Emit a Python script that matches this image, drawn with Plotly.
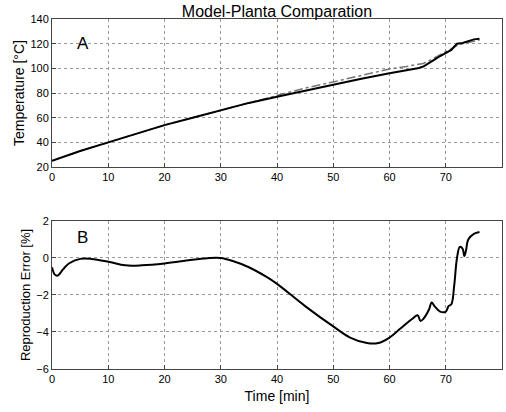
import plotly.graph_objects as go

# Panel A: temperature
t_meas = [0, 5, 10, 15, 20, 25, 30, 35, 40, 45, 50, 55, 60, 63, 65, 66, 67, 68, 69, 70, 71, 71.5, 72, 73, 74, 75, 76]
temp_meas = [25, 33, 40, 47, 54, 60, 66, 72, 77, 82, 87, 91.5, 96, 98.5, 100, 101.5, 104, 107, 110, 112.5, 115, 117.5, 120, 120.5, 122, 123.5, 124]
t_model = [0, 5, 10, 15, 20, 25, 30, 35, 40, 45, 50, 55, 60, 63, 65, 66, 67, 68, 69, 70, 71, 72, 73, 74, 75, 76]
temp_model = [25, 33, 40, 47, 54, 60, 66, 72, 78, 84, 89, 94.5, 99.5, 101.5, 103, 104, 106, 108.5, 111, 113, 115.5, 118.5, 120, 121, 122, 123]

# Panel B: reproduction error
t_err = [0, 0.5, 1, 2, 3, 5, 7, 10, 13, 16, 20, 25, 28, 30, 32, 35, 38, 40, 45, 50, 53, 56, 58, 60, 62, 64, 65, 65.5, 66, 67, 67.5, 68, 69, 70, 70.5, 71, 71.5, 72, 72.5, 73, 73.3, 73.6, 74, 75, 76]
err = [-0.5, -0.9, -0.95, -0.6, -0.3, -0.05, -0.05, -0.2, -0.4, -0.4, -0.3, -0.1, 0.0, 0.0, -0.15, -0.5, -1.0, -1.4, -2.6, -3.7, -4.3, -4.6, -4.6, -4.3, -3.8, -3.3, -3.1, -3.4, -3.3, -2.8, -2.4, -2.6, -2.9, -2.9, -2.6, -2.5, -1.5, 0.0, 0.6, 0.5, 0.1, 0.4, 1.0, 1.3, 1.4]

xticks = [0, 10, 20, 30, 40, 50, 60, 70, 80]
ticks_a = [20, 40, 60, 80, 100, 120, 140]
ticks_b = [-6, -4, -2, 0, 2]

fnt = "Liberation Sans, Arial, sans-serif"
fig = go.Figure()
fig.add_trace(go.Scatter(x=t_model, y=temp_model, mode="lines", xaxis="x", yaxis="y",
                         line=dict(color="#777777", width=1.5, dash="dashdot"), showlegend=False))
fig.add_trace(go.Scatter(x=t_meas, y=temp_meas, mode="lines", xaxis="x", yaxis="y",
                         line=dict(color="black", width=2), showlegend=False))
fig.add_trace(go.Scatter(x=t_err, y=err, mode="lines", xaxis="x2", yaxis="y2", line_shape="spline",
                         line=dict(color="black", width=2), showlegend=False))

axcommon = dict(showline=True, mirror=True, linecolor="#444444", linewidth=1,
                showgrid=True, gridcolor="#999999", griddash="dot", gridwidth=1,
                ticks="inside", ticklen=4, tickcolor="#444444", zeroline=False, automargin=False,
                tickfont=dict(family=fnt, size=11, color="black"))

fig.update_layout(
    width=506, height=412,
    margin=dict(l=52, r=4, t=19, b=43),
    paper_bgcolor="white", plot_bgcolor="white",
    font=dict(family=fnt, color="black"),
    title=dict(text="Model-Planta Comparation", xref="container", x=277/506, xanchor="center",
               yref="container", y=1 - 11/412, yanchor="middle",
               font=dict(family=fnt, size=16, color="black")),
    xaxis=dict(domain=[0, 1], range=[0, 80], tickvals=xticks, anchor="y", **axcommon),
    yaxis=dict(domain=[0.577, 1], range=[20, 140], tickvals=ticks_a, anchor="x",
               title=dict(text="Temperature [°C]", font=dict(family=fnt, size=14), standoff=2), **axcommon),
    xaxis2=dict(domain=[0, 1], range=[0, 80], tickvals=xticks, anchor="y2",
                title=dict(text="Time [min]", font=dict(family=fnt, size=14), standoff=6), **axcommon),
    yaxis2=dict(domain=[0, 0.423], range=[-6, 2], tickvals=ticks_b, anchor="x2",
                title=dict(text="Reproduction Error [%]", font=dict(family=fnt, size=13), standoff=2), **axcommon),
    annotations=[
        dict(text="A", x=5.5, y=120, xref="x", yref="y", showarrow=False, font=dict(family=fnt, size=17)),
        dict(text="B", x=5.5, y=1.1, xref="x2", yref="y2", showarrow=False, font=dict(family=fnt, size=17)),
    ],
)
fig.write_html("out.html", config={"displayModeBar": False},
               post_script="document.body.style.margin='0';")
